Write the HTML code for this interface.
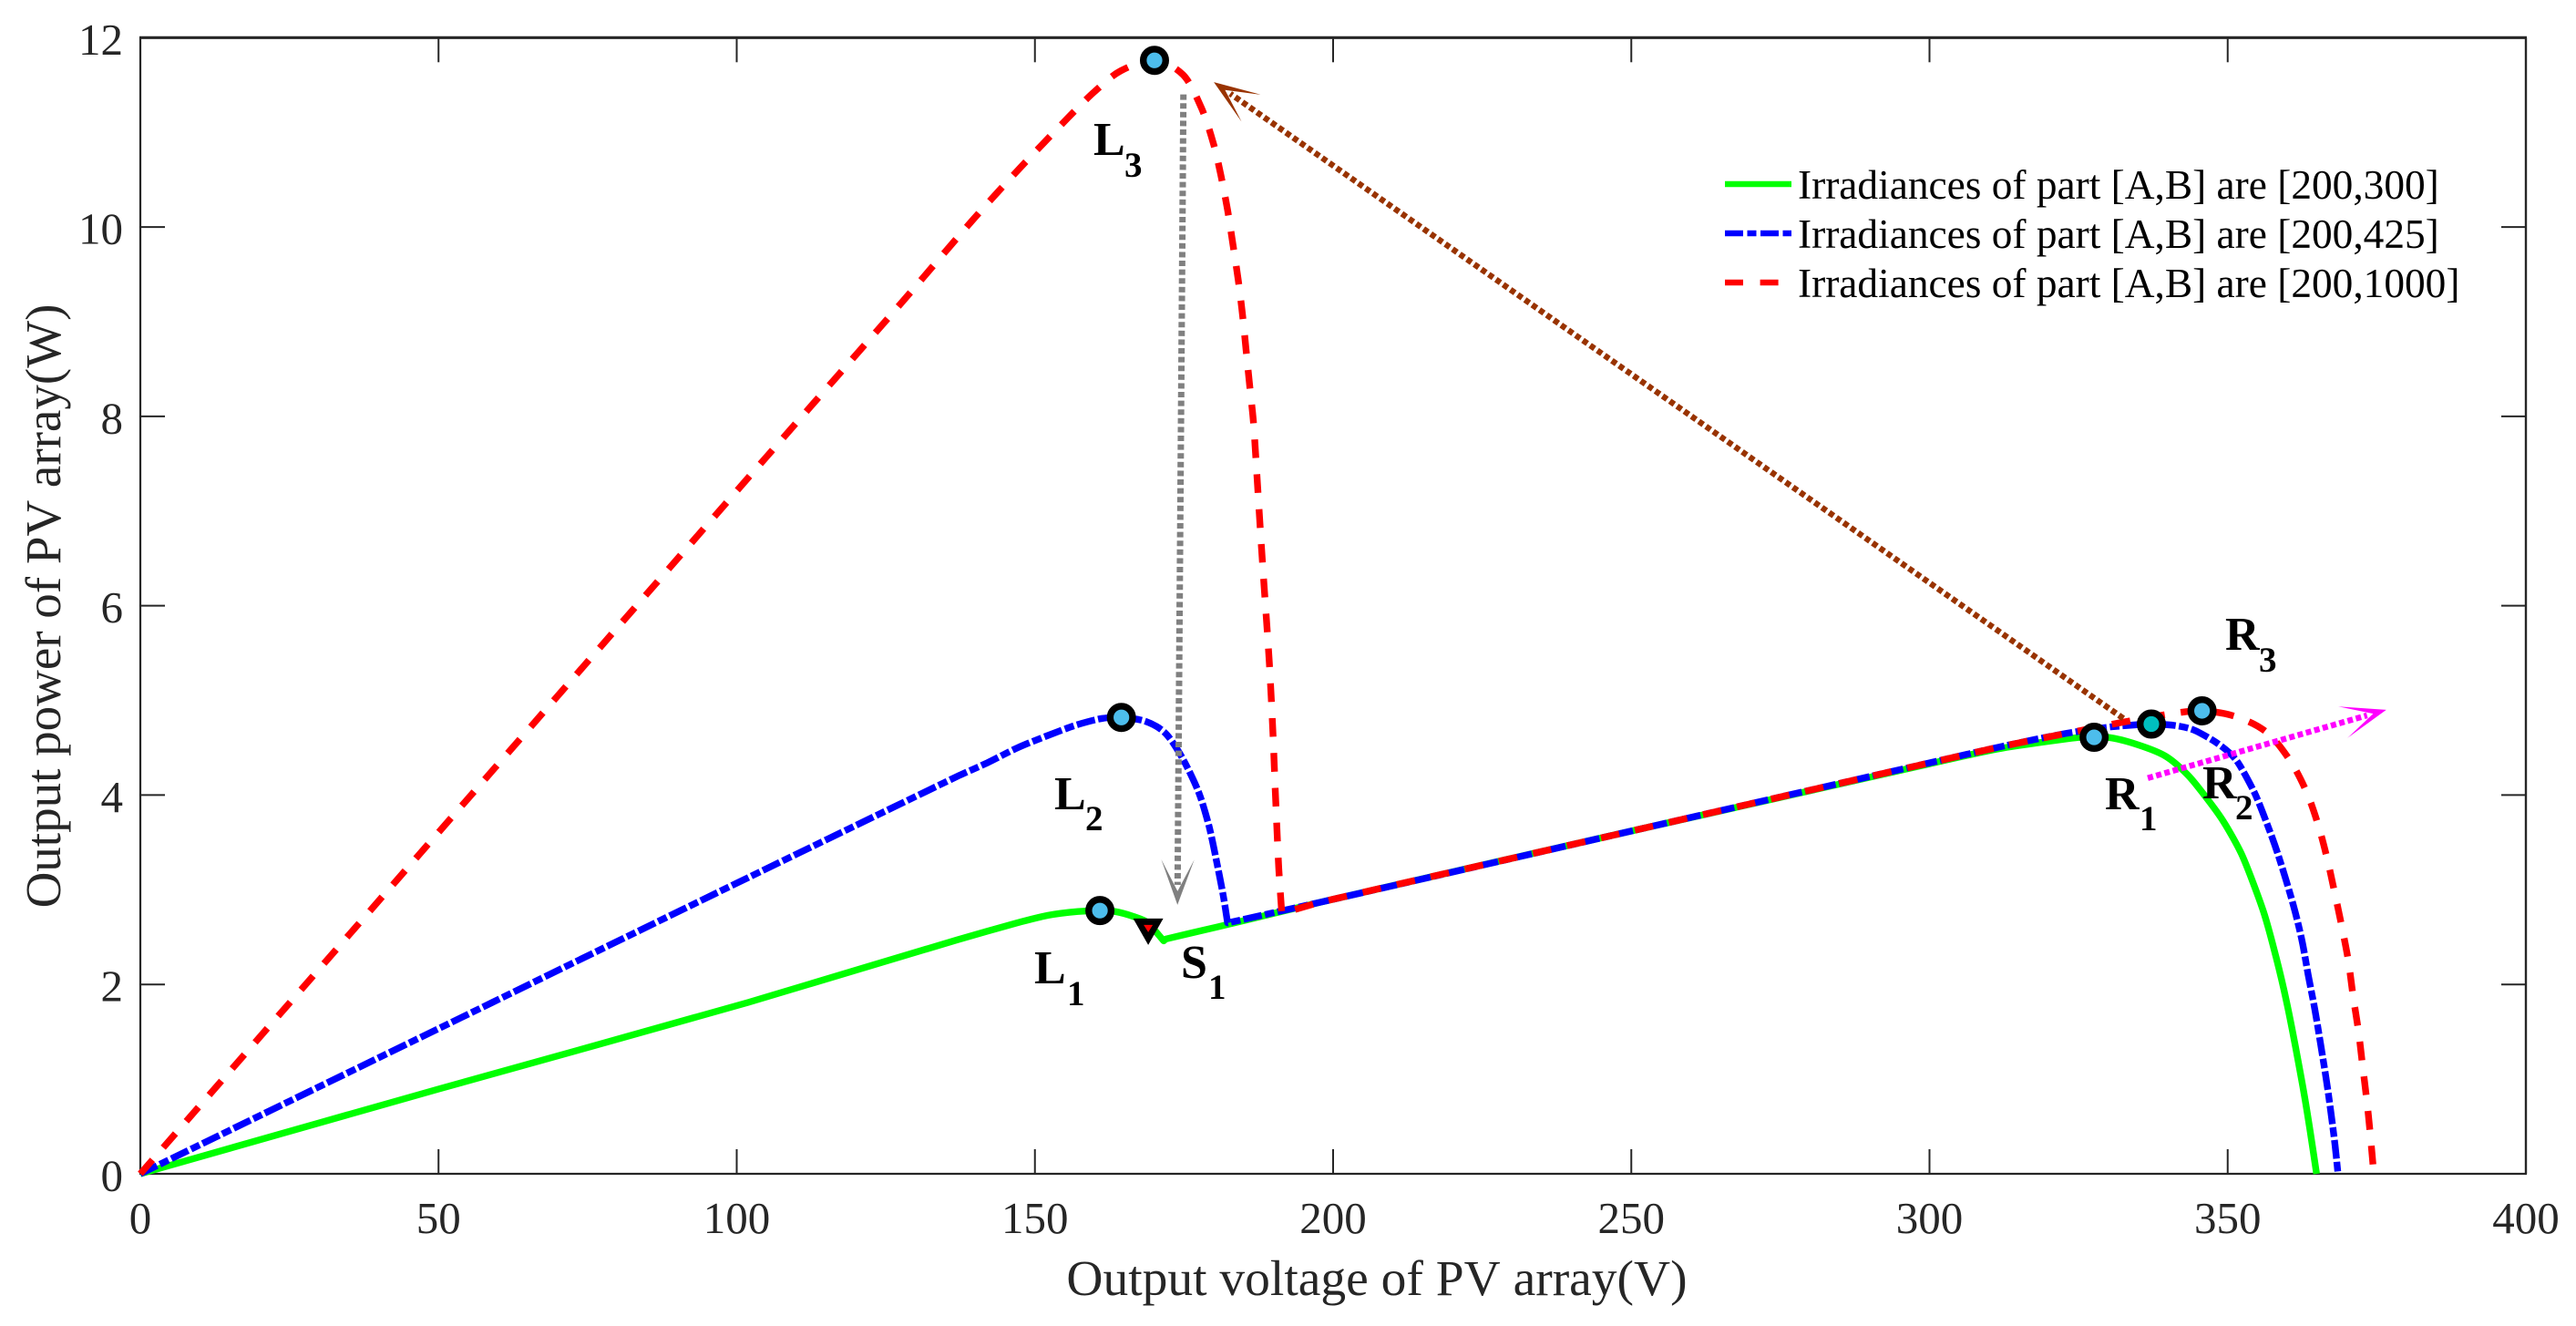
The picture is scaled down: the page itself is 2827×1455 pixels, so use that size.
<!DOCTYPE html>
<html lang="en">
<head>
<meta charset="utf-8">
<title>PV array output power versus output voltage</title>
<style>
html,body{margin:0;padding:0;background:#fff;}
svg{display:block;}
text{font-family:"Liberation Serif","Times New Roman",serif;font-kerning:none;}
</style>
</head>
<body>
<svg id="chart" xmlns="http://www.w3.org/2000/svg" width="2827" height="1455" viewBox="0 0 2827 1455">
  <rect x="0" y="0" width="2827" height="1455" fill="#ffffff"/>
  <g id="axes"></g>
  <g id="series"></g>
  <g id="arrows"></g>
  <g id="points"></g>
  <text x="1511" y="1421" font-size="55.5" text-anchor="middle" fill="#262626">Output voltage of PV array(V)</text>
  <text transform="translate(66 665) rotate(-90)" font-size="55" text-anchor="middle" fill="#262626">Output power of PV array(W)</text>
  <g>
    <line x1="1893" x2="1966" y1="202" y2="202" stroke="#00ff00" stroke-width="6.5"/>
    <text x="1973" y="218" font-size="45.35" fill="#000">Irradiances of part [A,B] are [200,300]</text>
    <line x1="1893" x2="1966" y1="256" y2="256" stroke="#0000ff" stroke-width="6.5" stroke-dasharray="20 4.5 10 4.5"/>
    <text x="1973" y="272" font-size="45.35" fill="#000">Irradiances of part [A,B] are [200,425]</text>
    <line x1="1893" x2="1966" y1="310" y2="310" stroke="#ff0000" stroke-width="6.5" stroke-dasharray="20 18.6"/>
    <text x="1973" y="326" font-size="45.35" fill="#000">Irradiances of part [A,B] are [200,1000]</text>
  </g>
  <g font-weight="bold" fill="#000">
    <text x="1200" y="170" font-size="52">L</text>
    <text x="1234" y="194" font-size="39">3</text>
    <text x="1157" y="888" font-size="52">L</text>
    <text x="1191" y="911" font-size="39">2</text>
    <text x="1135" y="1079" font-size="52">L</text>
    <text x="1171" y="1103" font-size="39">1</text>
    <text x="1296" y="1073" font-size="52">S</text>
    <text x="1326" y="1096" font-size="39">1</text>
    <text x="2310" y="888" font-size="52">R</text>
    <text x="2348" y="911" font-size="39">1</text>
    <text x="2417" y="876" font-size="52">R</text>
    <text x="2453" y="899" font-size="39">2</text>
    <text x="2442" y="713" font-size="52">R</text>
    <text x="2479" y="737" font-size="39">3</text>
  </g>
</svg>
<script>
const xTicks = [0, 50, 100, 150, 200, 250, 300, 350, 400];
const yTicks = [0, 2, 4, 6, 8, 10, 12];

const greenVoltage = [0,50,101.9,136.9,147,152.2,157.2,160.9,163.4,166.4,169,171.6,172,180.8,198,250,300,312.6,325.3,329.9,335,339.6,343.2,346.2,349.2,352.3,356,358.1,359.9,361.4,362.8,363.8,364.9];
const greenPower = [0,0.895,1.81,2.47,2.65,2.73,2.77,2.78,2.77,2.72,2.65,2.46,2.48,2.61,2.87,3.62,4.33,4.5,4.61,4.61,4.53,4.41,4.22,3.99,3.73,3.38,2.77,2.29,1.81,1.33,0.85,0.46,0];

const blueVoltage = [0,59,100,137.4,142,147.1,152.2,157.2,161.3,164.5,168.5,171.6,174,176.2,177.7,179.2,180.4,181.6,182.3,198,250,300,312.6,322.8,330.4,337.2,341.2,344.2,348.2,351.3,354.3,356.4,358.4,361,362.4,363.5,364.6,365.6,366.5,367.3,368,368.5];
const bluePower = [0,1.81,3.07,4.21,4.34,4.5,4.63,4.745,4.81,4.82,4.78,4.67,4.47,4.21,3.99,3.67,3.32,2.93,2.65,2.87,3.62,4.34,4.52,4.65,4.72,4.75,4.735,4.69,4.55,4.38,4.05,3.73,3.38,2.84,2.48,2.1,1.74,1.36,1.01,0.65,0.3,0];

const redVoltage = [0,105.1,127.5,139.8,147.6,155.5,160,164.4,170.05,174.8,177.9,179.9,181.2,182.3,183.2,184.1,184.8,185.4,186,186.6,187,188,189.3,189.9,190.4,190.9,191.4,198,250,300,312.6,322.8,332.9,340.6,345.7,351.3,356.4,360.3,363.1,365.1,366.6,367.9,369.1,370.2,371,371.9,372.6,373.3,373.9,374.5];
const redPower = [0,7.58,9.19,10.09,10.63,11.15,11.43,11.65,11.76,11.61,11.26,10.89,10.54,10.18,9.82,9.44,9.08,8.71,8.33,7.97,7.61,6.6,5.4,4.67,3.9,3.22,2.75,2.87,3.62,4.34,4.52,4.65,4.775,4.86,4.89,4.83,4.67,4.38,4.05,3.7,3.35,2.98,2.62,2.26,1.89,1.52,1.15,0.79,0.42,0];

const peakNames = ['l1', 'l2', 'l3', 'r1', 'r2', 'r3'];
const peakVoltage = [160.9, 164.5, 170.05, 327.6, 337.2, 345.7];
const peakPower = [2.78, 4.82, 11.76, 4.61, 4.75, 4.89];
const switchVoltage = [169];
const switchPower = [2.6];

const brownArrowVoltage = [332.5, 180];
const brownArrowPower = [4.81, 11.53];
const grayArrowVoltage = [174.9, 173.9];
const grayArrowPower = [11.4, 2.84];
const magentaArrowVoltage = [336.6, 376.6];
const magentaArrowPower = [4.18, 4.9];

const NS = 'http://www.w3.org/2000/svg';
const plotLeft = 154, plotRight = 2772, plotTop = 41.3, plotBottom = 1288;
const xDomain = 400, yDomain = 12;
function xScale(v) { return plotLeft + v / xDomain * (plotRight - plotLeft); }
function yScale(p) { return plotBottom - p / yDomain * (plotBottom - plotTop); }

function make(tag, props, parent) {
  const el = document.createElementNS(NS, tag);
  for (const k in props) el.setAttribute(k, props[k]);
  parent.appendChild(el);
  return el;
}

const axes = document.getElementById('axes');
const seriesLayer = document.getElementById('series');
const arrowLayer = document.getElementById('arrows');
const pointLayer = document.getElementById('points');
const axisColor = '#262626';
const tickLen = 27;

const frame = [
  ['axis-top', plotLeft - 1, plotTop, plotRight + 1, plotTop, 3.2],
  ['axis-bottom', plotLeft - 1, plotBottom, plotRight + 1, plotBottom, 2.2],
  ['axis-left', plotLeft, plotTop, plotLeft, plotBottom, 2.2],
  ['axis-right', plotRight, plotTop, plotRight, plotBottom, 2.4]
];
frame.forEach(function (f) {
  const el = make('line', {x1: f[1], y1: f[2], x2: f[3], y2: f[4], stroke: axisColor, 'stroke-width': f[5]}, axes);
  
  
});

xTicks.forEach(function (t) {
  const x = xScale(t);
  if (t > 0 && t < xDomain) {
    const low = make('line', {x1: x, x2: x, y1: plotBottom, y2: plotBottom - tickLen, stroke: axisColor, 'stroke-width': 2}, axes);
    
    
    const high = make('line', {x1: x, x2: x, y1: plotTop, y2: plotTop + tickLen, stroke: axisColor, 'stroke-width': 2}, axes);
    
    
  }
  const label = make('text', {x: x, y: 1353, 'font-size': 49, 'text-anchor': 'middle', fill: axisColor}, axes);
  label.textContent = String(t);
  
  
});

yTicks.forEach(function (t) {
  const y = yScale(t);
  if (t > 0 && t < yDomain) {
    const left = make('line', {x1: plotLeft, x2: plotLeft + tickLen, y1: y, y2: y, stroke: axisColor, 'stroke-width': 2}, axes);
    
    
    const right = make('line', {x1: plotRight, x2: plotRight - tickLen, y1: y, y2: y, stroke: axisColor, 'stroke-width': 2}, axes);
    
    
  }
  const label = make('text', {x: 135, y: y + 18.5, 'font-size': 49, 'text-anchor': 'end', fill: axisColor}, axes);
  label.textContent = String(t);
  
  
});

function smoothPath(vs, ps) {
  const p = vs.map(function (v, i) { return [xScale(v), yScale(ps[i])]; });
  const n = p.length;
  const u = [], len = [];
  for (let i = 0; i < n - 1; i++) {
    const dx = p[i + 1][0] - p[i][0], dy = p[i + 1][1] - p[i][1];
    const l = Math.hypot(dx, dy) || 1;
    len.push(l);
    u.push([dx / l, dy / l]);
  }
  const tan = [];
  for (let i = 0; i < n; i++) {
    if (i === 0 || i === n - 1) { tan.push(null); continue; }
    const dot = u[i - 1][0] * u[i][0] + u[i - 1][1] * u[i][1];
    if (dot < Math.cos(50 * Math.PI / 180)) { tan.push(null); continue; }
    const tx = u[i - 1][0] + u[i][0], ty = u[i - 1][1] + u[i][1];
    const tl = Math.hypot(tx, ty) || 1;
    tan.push([tx / tl, ty / tl]);
  }
  let d = 'M' + p[0][0].toFixed(1) + ' ' + p[0][1].toFixed(1);
  for (let i = 0; i < n - 1; i++) {
    const h = Math.min(len[i - 1] || len[i], len[i], len[i + 1] || len[i]) / 3;
    const a = tan[i] ? [p[i][0] + tan[i][0] * h, p[i][1] + tan[i][1] * h] : p[i];
    const b = tan[i + 1] ? [p[i + 1][0] - tan[i + 1][0] * h, p[i + 1][1] - tan[i + 1][1] * h] : p[i + 1];
    d += 'C' + a[0].toFixed(1) + ' ' + a[1].toFixed(1) + ' ' + b[0].toFixed(1) + ' ' + b[1].toFixed(1) + ' ' + p[i + 1][0].toFixed(1) + ' ' + p[i + 1][1].toFixed(1);
  }
  return d;
}

function curve(vs, ps, color, dash) {
  const props = {d: smoothPath(vs, ps), fill: 'none', stroke: color, 'stroke-width': 7.4, 'stroke-linejoin': 'round'};
  if (dash) props['stroke-dasharray'] = dash;
  return make('path', props, seriesLayer);
}
const greenLine = curve(greenVoltage, greenPower, '#00ff00', null);


const blueLine = curve(blueVoltage, bluePower, '#0000ff', '20.5 3.5 10.5 3.5');


const redLine = curve(redVoltage, redPower, '#ff0000', '20.5 17.8');



function arrow(vs, ps, color, dash, width, group) {
  const tx = xScale(vs[0]), ty = yScale(ps[0]);
  const hx = xScale(vs[1]), hy = yScale(ps[1]);
  const len = Math.hypot(tx - hx, ty - hy);
  const dx = (tx - hx) / len, dy = (ty - hy) / len;
  make('line', {x1: tx, y1: ty, x2: hx + dx * 22, y2: hy + dy * 22, stroke: color, 'stroke-width': width, 'stroke-dasharray': dash}, group);
  const L = 53, ang = 20 * Math.PI / 180, c = Math.cos(ang), s = Math.sin(ang);
  const b1x = hx + L * (dx * c - dy * s), b1y = hy + L * (dx * s + dy * c);
  const b2x = hx + L * (dx * c + dy * s), b2y = hy + L * (-dx * s + dy * c);
  const nx = hx + dx * 15, ny = hy + dy * 15;
  const q1x = b1x + (nx - b1x) * 0.07, q1y = b1y + (ny - b1y) * 0.07;
  const q2x = b2x + (nx - b2x) * 0.07, q2y = b2y + (ny - b2y) * 0.07;
  const pts = [[hx, hy], [b1x, b1y], [q1x, q1y], [nx, ny], [q2x, q2y], [b2x, b2y]]
    .map(function (p) { return p[0].toFixed(1) + ',' + p[1].toFixed(1); }).join(' ');
  make('polygon', {points: pts, fill: color}, group);
}
const brownGroup = make('g', {}, arrowLayer);


arrow(brownArrowVoltage, brownArrowPower, '#993300', '6 3.7', 6.5, brownGroup);
const grayGroup = make('g', {}, arrowLayer);


arrow(grayArrowVoltage, grayArrowPower, '#808080', '6 3.6', 7, grayGroup);
const magentaGroup = make('g', {}, arrowLayer);


arrow(magentaArrowVoltage, magentaArrowPower, '#ff00ff', '6 3.5', 6.5, magentaGroup);

peakVoltage.forEach(function (v, i) {
  const fill = peakNames[i] === 'r2' ? '#00bfbf' : '#4dbdec';
  const dot = make('circle', {cx: xScale(v), cy: yScale(peakPower[i]), r: 12.3, fill: fill, stroke: '#000', 'stroke-width': 7.4}, pointLayer);
  
  
});

switchVoltage.forEach(function (v, i) {
  const cx = xScale(v), cy = yScale(switchPower[i]);
  const outer = make('polygon', {points: [[cx - 16.5, cy - 10], [cx + 16.5, cy - 10], [cx, cy + 19]].join(' '), fill: '#000'}, pointLayer);
  
  
  const inner = make('polygon', {points: [[cx - 5, cy - 3], [cx + 5, cy - 3], [cx, cy + 5]].join(' '), fill: '#ff0000'}, pointLayer);
  
  
});
</script>
</body>
</html>
